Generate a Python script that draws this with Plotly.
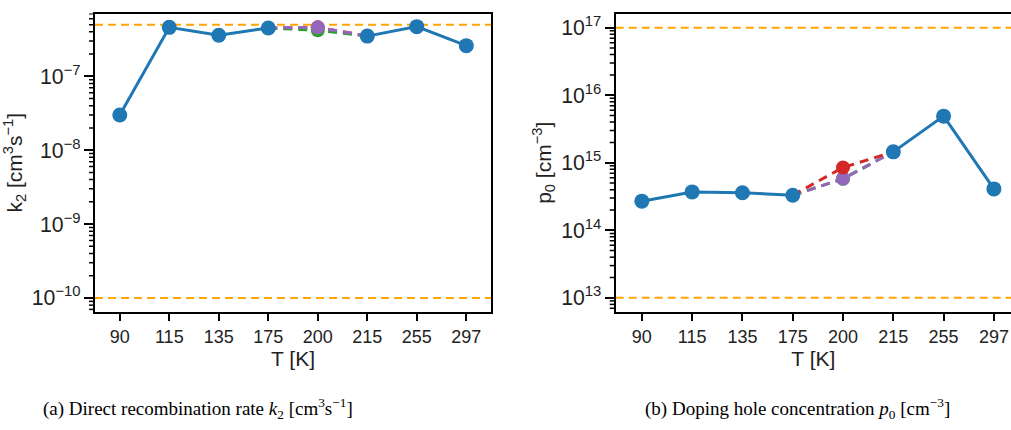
import math
import plotly.graph_objects as go

temps = ["90", "115", "135", "175", "200", "215", "255", "297"]

# (a) k2 values, main series (no value at 200 K)
k2_main = [3.0e-8, 4.6e-7, 3.6e-7, 4.5e-7, None, 3.5e-7, 4.7e-7, 2.6e-7]
# alternative fits at 200 K
k2_red = 4.6e-7
k2_green = 4.2e-7
k2_purple = 4.6e-7
k2_bounds = [5e-7, 1e-10]

# (b) p0 values
p0_main = [2.7e14, 3.7e14, 3.6e14, 3.3e14, None, 1.45e15, 4.9e15, 4.1e14]
p0_red = 8.5e14
p0_green = 5.8e14
p0_purple = 5.8e14
p0_bounds = [1e17, 1e13]

BLUE = "#1f77b4"
RED = "#d62728"
GREEN = "#2ca02c"
PURPLE = "#9467bd"
ORANGE = "#ffa500"

fig = go.Figure()


def add_panel(main, alts, bounds, xa, ya):
    for b in bounds:
        fig.add_shape(type="line", xref=f"{xa} domain", x0=0, x1=1, yref=ya, y0=b, y1=b,
                      line=dict(color=ORANGE, width=2, dash="8px,5px"), layer="below")
    for val, col in alts:
        fig.add_trace(go.Scatter(x=["175", "200", "215"], y=[main[3], val, main[5]],
                                 mode="lines", xaxis=xa, yaxis=ya,
                                 line=dict(color=col, width=3, dash="9px,6px"), showlegend=False))
        fig.add_trace(go.Scatter(x=["200"], y=[val], mode="markers", xaxis=xa, yaxis=ya,
                                 marker=dict(color=col, size=14), showlegend=False))
    fig.add_trace(go.Scatter(x=temps, y=main, mode="lines+markers", xaxis=xa, yaxis=ya,
                             line=dict(color=BLUE, width=3), marker=dict(color=BLUE, size=15),
                             connectgaps=False, showlegend=False))


add_panel(k2_main, [(k2_red, RED), (k2_green, GREEN), (k2_purple, PURPLE)], k2_bounds, "x", "y")
add_panel(p0_main, [(p0_green, GREEN), (p0_purple, PURPLE), (p0_red, RED)], p0_bounds, "x2", "y2")

SANS = "Liberation Sans, Arial"
tickfont = dict(family=SANS, size=18, color="#222")
titlefont = dict(family=SANS, size=21, color="#222")
ydom = [0.2744, 0.9686]
xdom1 = [0.094, 0.4857]
xdom2 = [0.609, 1.0]
yr1 = [-10.19, -6.15]
yr2 = [12.79, 17.21]


def add_minor_ticks(x_left, ya, yrange):
    # minor log ticks (2..9 per decade) drawn just outside the left axis line
    lo, hi = yrange
    for e in range(math.floor(lo), math.ceil(hi) + 1):
        for m in range(2, 10):
            v = m * 10.0 ** e
            if lo < math.log10(v) < hi:
                fig.add_shape(type="line", xref="paper", xsizemode="pixel", xanchor=x_left,
                              x0=-6, x1=-1, yref=ya, y0=v, y1=v,
                              line=dict(color="black", width=1.5))


add_minor_ticks(xdom1[0], "y", yr1)
add_minor_ticks(xdom2[0], "y2", yr2)

common_x = dict(type="category", categoryorder="array", categoryarray=temps,
                showline=True, linecolor="black", linewidth=2, ticks="outside",
                ticklen=7, tickwidth=2, tickcolor="black", tickfont=tickfont,
                showgrid=False, zeroline=False,
                title=dict(text="T [K]", font=titlefont, standoff=2))
common_y = dict(type="log", showline=True, linecolor="black", linewidth=2, ticks="outside",
                ticklen=9, tickwidth=2, tickcolor="black",
                tickfont=dict(family=SANS, size=17, color="#222"),
                dtick=1, exponentformat="power", showgrid=False, zeroline=False)

fig.update_layout(
    width=1011, height=430,
    margin=dict(l=0, r=0, t=0, b=0),
    paper_bgcolor="white", plot_bgcolor="white",
    showlegend=False,
    xaxis=dict(domain=xdom1, range=[-0.5, 7.5], anchor="y", mirror=True, **common_x),
    yaxis=dict(domain=ydom, range=yr1, anchor="x", mirror=True,
               title=dict(text="k<sub>2</sub> [cm<sup>3</sup>s<sup>−1</sup>]", font=titlefont, standoff=4),
               **common_y),
    xaxis2=dict(domain=xdom2, range=[-0.52, 7.34], anchor="y2", mirror=True, **common_x),
    yaxis2=dict(domain=ydom, range=yr2, anchor="x2", mirror=False,
                title=dict(text="p<sub>0</sub> [cm<sup>−3</sup>]", font=titlefont, standoff=4),
                **common_y),
    annotations=[
        dict(text="(a) Direct recombination rate <i>k</i><sub>2</sub> [cm<sup>3</sup>s<sup>−1</sup>]",
             x=0.196, y=0.051, xref="paper", yref="paper", xanchor="center", yanchor="middle",
             showarrow=False,
             font=dict(family="Liberation Serif, Times New Roman", size=19, color="black")),
        dict(text="(b) Doping hole concentration <i>p</i><sub>0</sub> [cm<sup>−3</sup>]",
             x=0.789, y=0.051, xref="paper", yref="paper", xanchor="center", yanchor="middle",
             showarrow=False,
             font=dict(family="Liberation Serif, Times New Roman", size=19, color="black")),
    ],
)

fig.write_html("out.html")
